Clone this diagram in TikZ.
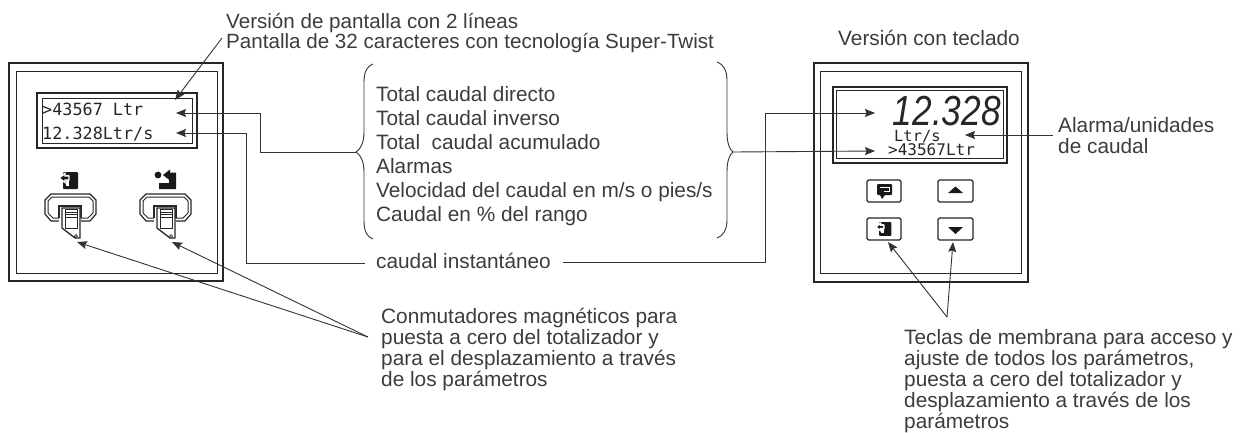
\documentclass[tikz,border=0pt]{standalone}
\usepackage{fontspec}
\setmainfont{Liberation Sans}
\newfontfamily\lcdfont{DejaVu Sans Mono}
\usetikzlibrary{arrows.meta}
\definecolor{inkgray}{HTML}{3C3C3C}
\definecolor{wiregray}{HTML}{333333}
\tikzset{
    caption/.style = {
        anchor      = base west,
        inner sep   = 0pt,
        align       = left,
        text        = inkgray,
        font        = \fontsize{20.8}{21}\selectfont,
    },
    listtext/.style = {
        caption,
        font        = \fontsize{20.8}{24}\selectfont,
    },
    lcdtext/.style = {
        anchor      = base west,
        inner sep   = 0pt,
        text        = black!85,
        text depth  = 0pt,
        font        = \lcdfont\fontsize{16.8}{20}\selectfont,
    },
    wire/.style   = {draw=wiregray, line width=0.9pt},
    frame/.style  = {draw=black!85, line width=2.8pt},
    rim/.style    = {draw=black!85, line width=1pt},
    keybox/.style = {draw=black!85, line width=1.1pt, fill=white, rounded corners=1.5pt},
    % magnetic switch, origin at the top left of its housing
    switchbox/.pic = {
        \draw[rim, line width=1.2pt, fill=white]
            (6,0) -- (45,0) -- (51,6) -- (51,20) -- (45,27) -- (6,27) -- (0,20) -- (0,6) -- cycle;
        \draw[rim]
            (7,3) -- (44,3) -- (48,7) -- (48,19) -- (43,24) -- (8,24) -- (3,19) -- (3,7) -- cycle;
        \fill[white] (14,12) rectangle (36,30);
        \draw[rim, line width=1.6pt] (14,24) -- (14,12) -- (36,12) -- (36,24);
        \draw[rim, line width=1.3pt, fill=white]
            (17,14) -- (35,14) -- (35,44) -- (30,44) -- (17,34) -- cycle;
        \draw[rim, line width=0.7pt] (20,15) rectangle (32,34);
        \draw[rim, line width=0.7pt] (20,18) -- (32,18) (20,20.5) -- (32,20.5) (20,23) -- (32,23);
        \draw[rim, line width=0.7pt] (31,42) circle (1.5);
    },
    % reset symbol, origin at the top left of its black square
    reseticon/.pic = {
        \fill[black!90, rounded corners=1pt] (0,0) rectangle (15,17);
        \fill[white] (2.5,3) rectangle (6,14);
        \draw[white, line width=1.4pt, fill=black!90]
            (-4,6) -- (2,1.5) -- (2,4) -- (6,4) -- (6,8) -- (2,8) -- (2,10.5) -- cycle;
    },
}

\begin{document}
\begin{tikzpicture}[x=1pt, y=-1pt, >={Stealth[length=10pt,width=8pt,inset=1.5pt]}]
  \path[use as bounding box] (0,0) rectangle (1242,432);

  % left instrument
  \draw[frame] (9,63) rectangle (223,281);
  \draw[rim] (16,71) rectangle (217,273);
  \draw[frame] (37,93) rectangle (197,148);
  \draw[rim] (42,98) rectangle (192,143);
  \node[lcdtext] (lcdtotal) at (42,115) {>43567 Ltr};
  \node[lcdtext] (lcdrate) at (42,139) {12.328Ltr/s};

  \pic (swa) at (45,194) {switchbox};
  \pic (swb) at (140,194) {switchbox};
  \pic (icona) at (63,172) {reseticon};
  % dot, arrow and bent bar above the second switch
  \fill[black!90] (158,175) circle (3.4);
  \fill[black!90] (163,175) -- (170,169.5) -- (170,180.5) -- cycle;
  \fill[black!90] (169,172.5) -- (176,172.5) -- (176,189) -- (159,189) -- (159,183)
    -- (169,183) -- cycle;

  % right instrument
  \draw[frame] (814,63) rectangle (1028,282);
  \draw[rim] (820,71) rectangle (1021,273);
  \draw[frame] (833,87) rectangle (1007,163);
  \draw[rim] (836,90) rectangle (1003,158);
  \node[lcdtext, font=\fontsize{42}{42}\selectfont\itshape, xscale=0.84, text=black!85,
    anchor=base east] (lcdbig) at (1001,125) {12.328};
  \node[lcdtext, font=\lcdfont\fontsize{15.4}{18}\selectfont, text height=11pt] (lcdunit) at (894,141) {Ltr/s};
  \node[lcdtext, font=\lcdfont\fontsize{16}{18}\selectfont, text height=11pt] (lcdlow) at (888,155) {>43567Ltr};

  \draw[keybox] (867,180) rectangle (901,202);
  \draw[keybox] (938,180) rectangle (973,202);
  \draw[keybox] (867,218) rectangle (901,240);
  \draw[keybox] (938,218) rectangle (973,240);
  % return symbol
  \fill[black!90, rounded corners=1pt] (877,184) rectangle (892,195);
  \fill[black!90] (880,195) -- (885,195) -- (882,199) -- cycle;
  \draw[white, line width=1pt] (880,187.5) -- (889,187.5) -- (889,191) -- (884,191);
  \pic[scale=0.82] (iconb) at (879,222) {reseticon};
  \fill[black!90] (948,193) -- (963,193) -- (955.5,186.5) -- cycle;
  \fill[black!90] (948,227) -- (963,227) -- (955.5,234) -- cycle;

  % texts, each placed at the baseline of its last line
  \node[caption, font=\fontsize{20.6}{20}\selectfont] (headleft) at (226,48)
    {Versión de pantalla con 2 líneas\\Pantalla de 32 caracteres con tecnología Super-Twist};
  \node[caption] (headright) at (838,45) {Versión con teclado};
  \node[listtext] (flowlist) at (376,221) {Total caudal directo\\Total caudal inverso\\
    Total\ \ caudal acumulado\\Alarmas\\Velocidad del caudal en m/s o pies/s\\Caudal en \% del rango};
  \node[caption] (ratetext) at (376,268) {caudal instantáneo};
  \node[caption] (alarmtext) at (1058,153) {Alarma/unidades\\de caudal};
  \node[caption] (switchtext) at (381,386) {Conmutadores magnéticos para\\
    puesta a cero del totalizador y\\para el desplazamiento a través\\de los parámetros};
  \node[caption] (keytext) at (904,428) {Teclas de membrana para acceso y\\
    ajuste de todos los parámetros,\\puesta a cero del totalizador y\\
    desplazamiento a través de los\\parámetros};

  % braces
  \coordinate (bl) at (356,152);
  \coordinate (br) at (733,152);
  \draw[wire] (373,64) .. controls (367,66) and (364,72) .. (364,82) -- (364,132)
    .. controls (364,142) and (361,149) .. (bl)
    .. controls (361,155) and (364,162) .. (364,172) -- (364,221)
    .. controls (364,231) and (367,237) .. (373,239);
  \draw[wire] (717,62) .. controls (723,64) and (727,70) .. (727,80) -- (727,132)
    .. controls (727,142) and (729,149) .. (br)
    .. controls (729,155) and (727,162) .. (727,172) -- (727,220)
    .. controls (727,230) and (723,236) .. (717,238);

  % connectors
  \coordinate (headtail) at (222,38);
  \coordinate (headtip) at (175,100);
  \coordinate (ttip) at (176,113);
  \coordinate (rtip) at (176,133);
  \coordinate (swjoin) at (368,337);
  \coordinate (swatip) at (77,242);
  \coordinate (swbtip) at (172,242);
  \coordinate (keyjoin) at (947,317);
  \coordinate (keyatip) at (888,242);
  \coordinate (keybtip) at (953,242);
  \coordinate (bigtip) at (875,113);
  \coordinate (lowtip) at (875,151);
  \coordinate (unittip) at (965,135);
  \coordinate (unittail) at (1053,135);
  \coordinate (rateleft) at (365,263);
  \coordinate (rateright) at (563,262);

  \draw[wire, ->] (headtail) -- (headtip);
  \draw[wire, ->] (bl) -- (260,152) -- (260,113) -- (ttip);
  \draw[wire, ->] (rateleft) -- (246,263) -- (246,133) -- (rtip);
  \draw[wire, ->] (rateright) -- (765,262) -- (765,113) -- (bigtip);
  \draw[wire, ->] (br) -- (lowtip);
  \draw[wire, ->] (unittail) -- (unittip);
  \draw[wire, ->] (swjoin) -- (swatip);
  \draw[wire, ->] (swjoin) -- (swbtip);
  \draw[wire, ->] (keyjoin) -- (keyatip);
  \draw[wire, ->] (keyjoin) -- (keybtip);
\end{tikzpicture}
\end{document}
